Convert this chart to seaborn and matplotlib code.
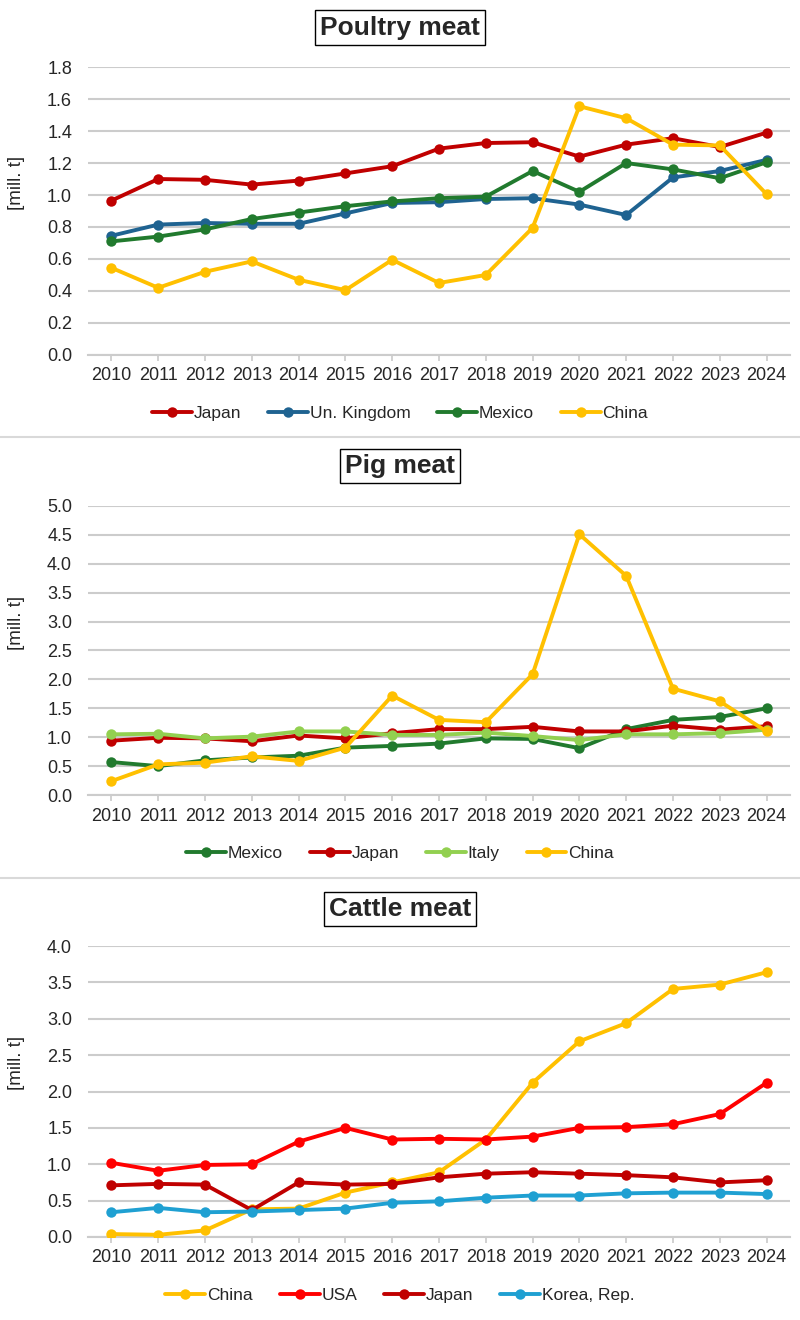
import matplotlib
matplotlib.use("Agg")
import matplotlib.pyplot as plt
import pandas as pd
import seaborn as sns
from matplotlib.lines import Line2D

years = [str(y) for y in range(2010, 2025)]

# Poultry meat [mill. t]
poultry_japan = [0.965, 1.10, 1.095, 1.065, 1.09, 1.135, 1.18, 1.29, 1.325, 1.33, 1.24, 1.315, 1.355, 1.30, 1.39]
poultry_uk = [0.745, 0.815, 0.825, 0.82, 0.82, 0.885, 0.95, 0.955, 0.975, 0.98, 0.94, 0.875, 1.11, 1.15, 1.22]
poultry_mexico = [0.71, 0.74, 0.785, 0.85, 0.89, 0.93, 0.96, 0.98, 0.99, 1.15, 1.02, 1.20, 1.16, 1.105, 1.205]
poultry_china = [0.545, 0.42, 0.52, 0.585, 0.47, 0.405, 0.595, 0.45, 0.50, 0.795, 1.555, 1.48, 1.315, 1.31, 1.005]

# Pig meat [mill. t]
pig_mexico = [0.57, 0.50, 0.60, 0.65, 0.68, 0.82, 0.85, 0.89, 0.98, 0.97, 0.81, 1.14, 1.30, 1.35, 1.50]
pig_japan = [0.94, 0.99, 0.98, 0.93, 1.03, 0.98, 1.07, 1.14, 1.14, 1.18, 1.10, 1.10, 1.20, 1.13, 1.19]
pig_italy = [1.05, 1.06, 0.98, 1.01, 1.10, 1.10, 1.04, 1.04, 1.08, 1.02, 0.95, 1.05, 1.05, 1.07, 1.13]
pig_china = [0.24, 0.53, 0.56, 0.67, 0.59, 0.82, 1.72, 1.30, 1.26, 2.09, 4.51, 3.79, 1.84, 1.62, 1.10]

# Cattle meat [mill. t]
cattle_china = [0.04, 0.03, 0.09, 0.38, 0.39, 0.61, 0.75, 0.89, 1.34, 2.12, 2.69, 2.94, 3.41, 3.47, 3.64]
cattle_usa = [1.02, 0.91, 0.99, 1.00, 1.31, 1.50, 1.34, 1.35, 1.34, 1.38, 1.50, 1.51, 1.55, 1.69, 2.12]
cattle_japan = [0.71, 0.73, 0.72, 0.37, 0.75, 0.72, 0.73, 0.82, 0.87, 0.89, 0.87, 0.85, 0.82, 0.75, 0.78]
cattle_korea = [0.34, 0.40, 0.34, 0.35, 0.37, 0.39, 0.47, 0.49, 0.54, 0.57, 0.57, 0.60, 0.61, 0.61, 0.59]

panels = [
    {
        "title": "Poultry meat",
        "series": {"Japan": poultry_japan, "Un. Kingdom": poultry_uk,
                   "Mexico": poultry_mexico, "China": poultry_china},
        "colors": ["#C00000", "#1F6391", "#217A2E", "#FFC000"],
        "ymax": 1.8, "ystep": 0.2,
        "rect": [0.11, 0.7311, 0.8775, 0.2181],
        "title_y": 0.979, "legend_y": 0.687,
    },
    {
        "title": "Pig meat",
        "series": {"Mexico": pig_mexico, "Japan": pig_japan,
                   "Italy": pig_italy, "China": pig_china},
        "colors": ["#217A2E", "#C00000", "#92D050", "#FFC000"],
        "ymax": 5.0, "ystep": 0.5,
        "rect": [0.11, 0.3977, 0.8775, 0.2190],
        "title_y": 0.6470, "legend_y": 0.3535,
    },
    {
        "title": "Cattle meat",
        "series": {"China": cattle_china, "USA": cattle_usa,
                   "Japan": cattle_japan, "Korea, Rep.": cattle_korea},
        "colors": ["#FFC000", "#FF0000", "#C00000", "#1FA0D2"],
        "ymax": 4.0, "ystep": 0.5,
        "rect": [0.11, 0.0629, 0.8775, 0.2204],
        "title_y": 0.3114, "legend_y": 0.0185,
    },
]

sns.set_theme(style="white")
plt.rcParams["font.family"] = ["Liberation Sans", "DejaVu Sans"]

fig = plt.figure(figsize=(8, 13.2), dpi=100)

for p in panels:
    ax = fig.add_axes(p["rect"])
    df = pd.DataFrame(p["series"], index=years)
    df.index.name = "Year"
    long = df.reset_index().melt(id_vars="Year", var_name="Country", value_name="Value")
    sns.lineplot(data=long, x="Year", y="Value", hue="Country",
                 palette=p["colors"], marker="o", markersize=7.5,
                 markeredgewidth=0, linewidth=2.8, sort=False,
                 legend=False, ax=ax, zorder=3)

    n = p["ymax"] / p["ystep"]
    ticks = [round(i * p["ystep"], 1) for i in range(int(round(n)) + 1)]
    ax.set_ylim(0, p["ymax"])
    ax.set_yticks(ticks)
    ax.set_yticklabels([f"{t:.1f}" for t in ticks])
    ax.set_xlim(-0.5, len(years) - 0.5)
    ax.yaxis.grid(True, color="#CCCCCC", linewidth=1.5, zorder=0)
    ax.set_axisbelow(True)
    for side in ["top", "right", "left"]:
        ax.spines[side].set_visible(False)
    ax.spines["bottom"].set_color("#CCCCCC")
    ax.spines["bottom"].set_linewidth(1.5)
    ax.tick_params(axis="x", bottom=True, length=4, color="#CCCCCC", labelsize=13, pad=5)
    ax.tick_params(axis="y", left=False, length=0, labelsize=13, pad=11.5)
    ax.set_xlabel("")
    ax.set_ylabel("[mill. t]", fontsize=13.5)
    ax.yaxis.set_label_coords(-0.09, 0.597)

    fig.text(0.5, p["title_y"], p["title"], ha="center", va="center",
             fontsize=19, fontweight="bold",
             bbox=dict(boxstyle="square,pad=0.2", facecolor="white",
                       edgecolor="black", linewidth=1))

    handles = [Line2D([], [], color=c, linewidth=2.8, marker="o", markersize=7.5,
                      markeredgewidth=0) for c in p["colors"]]
    fig.legend(handles, list(p["series"].keys()), loc="center",
               bbox_to_anchor=(0.5, p["legend_y"]), ncol=4, frameon=False,
               fontsize=12.5, handlelength=2.3, handletextpad=0.1,
               columnspacing=1.55)

for y in [1 - 437 / 1320, 1 - 878 / 1320]:
    fig.add_artist(Line2D([0, 1], [y, y], transform=fig.transFigure,
                          color="#D9D9D9", linewidth=1.5))

fig.savefig("out.png", dpi=100, facecolor="white")
